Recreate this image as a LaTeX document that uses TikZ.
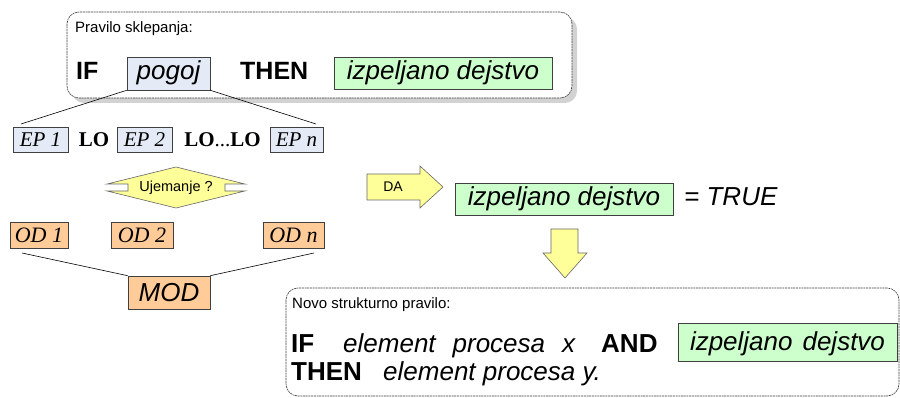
\documentclass[tikz,border=0pt]{standalone}
\usepackage{fontspec}
\setmainfont{Liberation Sans}
\newfontfamily\tnr{Liberation Serif}
\usetikzlibrary{shadows}
\definecolor{bluef}{HTML}{E4EBF6}
\definecolor{peach}{HTML}{FFCC99}
\definecolor{greenf}{HTML}{CCFFCC}
\definecolor{yellowf}{HTML}{FFFF99}
\definecolor{edge}{HTML}{404040}
\tikzset{
  fs/.style={font=\fontsize{#1pt}{#1pt}\selectfont},
  fsb/.style={font=\fontsize{#1pt}{#1pt}\selectfont\bfseries},
  fsr/.style={font=\tnr\fontsize{#1pt}{#1pt}\selectfont},
  frame/.style={draw=edge, line width=0.6pt, dash pattern=on 2pt off 0.7pt,
    rounded corners=12pt, fill=white, inner sep=0pt},
  tbox/.style={draw=edge, line width=0.6pt, inner sep=0pt},
  pbox/.style={tbox, fill=bluef},
  gbox/.style={tbox, fill=greenf},
  obox/.style={tbox, fill=peach},
  arr/.style={draw=edge!80, line width=0.6pt, fill=yellowf, line join=miter},
  conn/.style={draw=black, line width=0.6pt},
  srow/.style={fsr=21, text height=14.7pt, text depth=0pt, inner sep=0pt},
  orow/.style={fsr=22, text height=15.4pt, text depth=0pt, inner sep=0pt},
  toprow/.style={text height=18.5pt, text depth=5.5pt, inner sep=0pt},
}
\begin{document}
\begin{tikzpicture}[x=1pt,y=-1pt]
\useasboundingbox (0,0) rectangle (900,398);

% ---------- top rule ----------
\node[frame, minimum width=505pt, minimum height=86pt,
  drop shadow={shadow xshift=5pt, shadow yshift=-5pt, fill=black!35, draw=none}]
  (rule) at (319.5,55) {};
\node[fs=15, anchor=west, inner sep=0pt] (rtitle) at (75,29) {Pravilo sklepanja:};
\node[toprow, fsb=25, anchor=west] (if1) at (76,73.5) {IF};
\node[pbox, fs=26, toprow, minimum width=83pt, minimum height=33pt] (pogoj) at (168.5,73.5) {\itshape pogoj};
\node[toprow, fsb=25, anchor=west] (then1) at (240,73.5) {THEN};
\node[gbox, fs=26, toprow, minimum width=218pt, minimum height=32pt] (ized1) at (443,73.5) {\itshape izpeljano dejstvo};

% ---------- EP row ----------
\coordinate (epl) at (21,124);
\coordinate (epr) at (316,124);
\draw[conn] (pogoj.south west) -- (epl);
\draw[conn] (pogoj.south east) -- (epr);
\node[pbox, srow, minimum width=55pt, minimum height=25pt] (ep1) at (40.5,139.5) {\itshape EP 1};
\node[srow] (lo1) at (94,139.5) {\bfseries LO};
\node[pbox, srow, minimum width=55pt, minimum height=25pt] (ep2) at (144.5,139.5) {\itshape EP 2};
\node[srow] (lo2) at (222.5,139.5) {\textbf{LO}...\textbf{LO}};
\node[pbox, srow, minimum width=53pt, minimum height=25pt] (epn) at (296.5,139.5) {\itshape EP n};

% ---------- Ujemanje ----------
\draw[arr] (176,167) -- (245,184) -- (225,184) -- (225,191) -- (245,191) -- (176,208)
  -- (107,191) -- (128,191) -- (128,184) -- (107,184) -- cycle;
\node[fs=14.5, inner sep=0pt] (uj) at (176,187.5) {Ujemanje ?};

% ---------- OD row ----------
\node[obox, orow, minimum width=58pt, minimum height=26pt] (od1) at (39,235) {\itshape OD 1};
\node[obox, orow, minimum width=62pt, minimum height=26pt] (od2) at (142,235) {\itshape OD 2};
\node[obox, orow, minimum width=61pt, minimum height=26pt] (odn) at (293.5,235) {\itshape OD n};
\coordinate (odl) at (22,253);
\coordinate (odr) at (314,253);
\node[obox, fs=26, text height=18.5pt, text depth=0pt, minimum width=82pt, minimum height=33pt] (mod) at (169,292.5) {\itshape MOD};
\draw[conn] (odl) -- (mod.north west);
\draw[conn] (odr) -- (mod.north east);

% ---------- DA arrow ----------
\draw[arr] (367,174) -- (420,174) -- (420,166) -- (443,187) -- (420,208) -- (420,200)
  -- (367,200) -- cycle;
\node[fs=14, inner sep=0pt] (da) at (393,187) {DA};

\node[gbox, fs=26, toprow, minimum width=218pt, minimum height=32pt] (ized2) at (564,199) {\itshape izpeljano dejstvo};
\node[fs=26, toprow, anchor=west] (true) at (684,199) {\itshape = TRUE};

% ---------- down arrow ----------
\draw[arr] (551,229) -- (578,229) -- (578,253) -- (587,253) -- (565,278) -- (543,253)
  -- (551,253) -- cycle;

% ---------- new rule ----------
\node[frame, minimum width=613pt, minimum height=108pt] (nrule) at (592.5,342) {};
\node[fs=15, anchor=west, inner sep=0pt] (ntitle) at (292,305) {Novo strukturno pravilo:};
\node[fsb=26, anchor=base west, inner sep=0pt] (if2) at (291,352) {IF};
\node[fs=26, anchor=base west, inner sep=0pt] (epx) at (343,352) {\itshape element\hspace{17pt}procesa\hspace{17pt}x};
\node[fsb=26, anchor=base west, inner sep=0pt] (and) at (601,352) {AND};
\node[gbox, fs=26, text height=18.5pt, text depth=1.5pt, minimum width=219pt, minimum height=38pt] (ized3) at (787.5,342) {\itshape izpeljano\hspace{10pt}dejstvo};
\node[fsb=26, anchor=base west, inner sep=0pt] (then2) at (291,380) {THEN};
\node[fs=26, anchor=base west, inner sep=0pt] (epy) at (383,380) {\itshape element procesa y.};
\end{tikzpicture}
\end{document}
